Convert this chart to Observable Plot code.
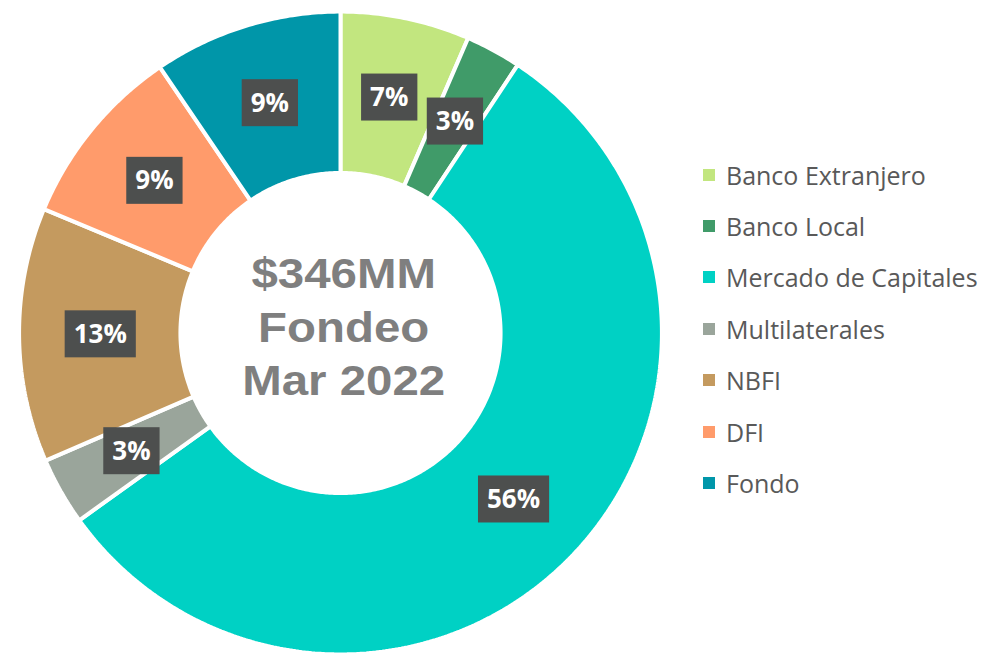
<!DOCTYPE html>
<html>
<head>
<meta charset="utf-8">
<script src="https://cdn.jsdelivr.net/npm/d3@7"></script>
<script src="https://cdn.jsdelivr.net/npm/@observablehq/plot@0.6"></script>
<style>
  html, body { margin: 0; padding: 0; background: #fff; }
  #wrap { position: relative; width: 999px; height: 656px; overflow: hidden; }
  #legend { position: absolute; left: 703px; top: 149px; font-family: "Open Sans", sans-serif; font-size: 25px; color: #595959; }
  .row { height: 51.4px; display: flex; align-items: center; white-space: nowrap; }
  .sw { width: 12px; height: 12px; margin-right: 11px; flex: none; }
</style>
</head>
<body>
<div id="wrap"><div id="legend"></div></div>
<script>
const categories = ["Banco Extranjero", "Banco Local", "Mercado de Capitales", "Multilaterales", "NBFI", "DFI", "Fondo"];
const shares = [6.5, 2.8, 55.8, 3.4, 12.8, 9.2, 9.5];
const pctLabels = ["7%", "3%", "56%", "3%", "13%", "9%", "9%"];
const colors = ["#C2E67F", "#409B69", "#00D1C4", "#9AA59B", "#C49A5F", "#FF9B6B", "#0096A9"];
const centerLines = ["$346MM", "Fondeo", "Mar 2022"];

// geometry (units of outer radius)
const R_OUT = 1.006, R_IN = 0.501, R_LAB = 0.752;
const total = d3.sum(shares);
const slices = [];
let acc = 0;
categories.forEach((c, i) => {
  const a0 = acc / total * 2 * Math.PI;
  acc += shares[i];
  const a1 = acc / total * 2 * Math.PI;
  slices.push({cat: c, a0, a1, label: pctLabels[i]});
});
const poly = [];
for (const s of slices) {
  const n = Math.max(8, Math.ceil((s.a1 - s.a0) / 0.01));
  for (let k = 0; k <= n; k++) {
    const a = s.a0 + (s.a1 - s.a0) * k / n;
    poly.push({cat: s.cat, x: R_OUT * Math.sin(a), y: R_OUT * Math.cos(a)});
  }
  for (let k = n; k >= 0; k--) {
    const a = s.a0 + (s.a1 - s.a0) * k / n;
    poly.push({cat: s.cat, x: R_IN * Math.sin(a), y: R_IN * Math.cos(a)});
  }
}
const labs = slices.map(s => {
  const m = (s.a0 + s.a1) / 2;
  return {label: s.label, x: R_LAB * Math.sin(m), y: R_LAB * Math.cos(m)};
});

const K = 319.5;
const chart = Plot.plot({
  width: 999, height: 656,
  marginTop: 0, marginBottom: 0, marginLeft: 0, marginRight: 0,
  x: {domain: [-340 / K, 659 / K], axis: null},
  y: {domain: [-323.5 / K, 332.5 / K], axis: null},
  color: {domain: categories, range: colors},
  marks: [
    Plot.line(poly, {x: "x", y: "y", z: "cat", fill: "cat", stroke: "white", strokeWidth: 4, curve: "linear-closed", strokeLinejoin: "miter"}),
    Plot.text(labs, {x: "x", y: "y", text: "label", fill: "white", fontSize: 26, fontWeight: "bold", fontFamily: "Open Sans"}),
    Plot.text([centerLines.join("\n")], {x: () => 0.01, y: () => 0.027, text: d => d, fill: "#7F7F7F", fontSize: 42, fontWeight: "bold", fontFamily: "Liberation Sans", lineHeight: 1.28})
  ]
});
document.getElementById("wrap").prepend(chart);

const textGroups = chart.querySelectorAll('g[aria-label="text"]');
// label boxes behind percentage text
d3.select(textGroups[0]).selectAll("text").each(function() {
  const b = this.getBBox();
  const t = this.getAttribute("transform");
  const cx = b.x + b.width / 2, cy = b.y + b.height / 2;
  const w = b.width + 18, h = 47;
  d3.select(this.parentNode).insert("rect", () => this)
    .attr("transform", t)
    .attr("x", cx - w / 2).attr("y", cy - h / 2 + 1)
    .attr("width", w).attr("height", h)
    .attr("fill", "#4D4F4E");
});
// widen the center text slightly
d3.select(textGroups[1]).selectAll("text").each(function() {
  const t = this.getAttribute("transform") || "";
  this.setAttribute("transform", t + " scale(1.13,1)");
});

const legend = d3.select("#legend");
categories.forEach((c, i) => {
  const row = legend.append("div").attr("class", "row");
  row.append("div").attr("class", "sw").style("background", colors[i]);
  row.append("span").text(c);
});
</script>
</body>
</html>
